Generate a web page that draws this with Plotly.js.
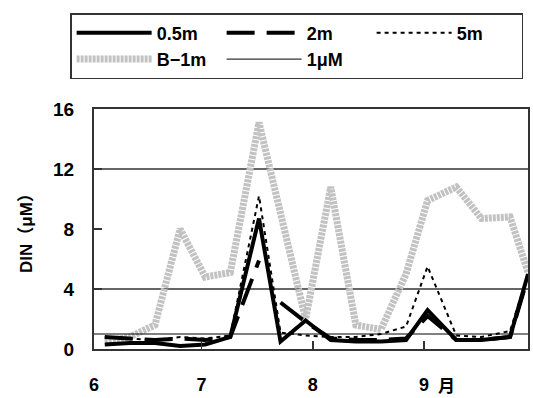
<!DOCTYPE html>
<html>
<head>
<meta charset="utf-8">
<script src="https://cdn.plot.ly/plotly-3.0.1.min.js"></script>
<style>html,body{margin:0;padding:0;background:#fff;}#chart{width:533px;height:398px;}</style>
</head>
<body>
<div id="chart"></div>
<script>
// sampling dates
const dates = ['2008-06-04','2008-06-11','2008-06-18','2008-06-25','2008-07-02','2008-07-09','2008-07-17','2008-07-23','2008-07-30','2008-08-06','2008-08-13','2008-08-20','2008-08-27','2008-09-02','2008-09-10','2008-09-17','2008-09-25','2008-09-30'];
// DIN (μM) by depth / station
const din05m = [0.3, 0.4, 0.4, 0.2, 0.3, 0.8, 8.7, 0.5, 1.9, 0.6, 0.5, 0.5, 0.6, 2.6, 0.6, 0.6, 0.8, 5.0];
const din2m  = [0.8, 0.7, 0.6, 0.7, 0.6, 0.8, 5.9, 3.1, 1.8, 0.7, 0.6, 0.6, 0.7, 2.2, 0.6, 0.6, 0.8, 4.8];
const din5m  = [0.8, 0.7, 0.6, 0.8, 0.7, 0.9, 10.2, 1.1, 0.9, 0.8, 0.8, 1.0, 1.5, 5.5, 0.9, 0.8, 1.2, 5.0];
const dinB1m = [0.5, 0.8, 1.6, 8.0, 4.8, 5.1, 15.1, 9.2, 2.0, 10.8, 1.6, 1.3, 5.0, 9.9, 10.8, 8.7, 8.8, 5.1];
// 2m series is missing between these two samples
const gap2mAfter = '2008-07-17', gap2mDate = '2008-07-20';
// reference level
const refLevel = 1;
const xRange = ['2008-06-01','2008-09-30'];
const monthTicks = ['2008-06-01','2008-07-01','2008-08-01','2008-09-01'];
const monthLabels = ['6','7','8','9'];
const yTicks = [0, 4, 8, 12, 16];
const gridLevels = [4, 12];

// build 2m with a gap
const x2 = [], y2 = [];
dates.forEach((d, i) => {
  x2.push(d); y2.push(din2m[i]);
  if (d === gap2mAfter) { x2.push(gap2mDate); y2.push(null); }
});

const FONT = 'Liberation Sans, Arial, Noto Sans CJK JP, sans-serif';

const traces = [
  {x: dates, y: dinB1m, name: 'B−1m', mode: 'lines', legendrank: 4,
   line: {color: '#c2c2c2', width: 7, dash: '3px,1px'}},
  {x: xRange, y: [refLevel, refLevel], name: '1μM', mode: 'lines', legendrank: 5,
   line: {color: '#000', width: 1}},
  {x: dates, y: din5m, name: '5m', mode: 'lines', legendrank: 3,
   line: {color: '#000', width: 2, dash: '4px,4px'}},
  {x: x2, y: y2, name: '2m', mode: 'lines', legendrank: 2, connectgaps: false,
   line: {color: '#000', width: 4, dash: '28px,12px'}},
  {x: dates, y: din05m, name: '0.5m', mode: 'lines', legendrank: 1,
   line: {color: '#000', width: 4}}
];

const shapes = gridLevels.map(v => ({
  type: 'line', xref: 'paper', x0: 0, x1: 1, yref: 'y', y0: v, y1: v,
  line: {color: '#333', width: 1.5}, layer: 'below'
}));

const layout = {
  width: 533, height: 398,
  margin: {l: 94, r: 5, t: 109, b: 49},
  paper_bgcolor: '#fff', plot_bgcolor: '#fff',
  font: {family: FONT, size: 18, color: '#000', weight: 700},
  showlegend: true,
  legend: {
    orientation: 'h', x: -0.055, xanchor: 'left', y: 1.40, yanchor: 'top',
    bordercolor: '#333', borderwidth: 1.5, bgcolor: '#fff',
    itemwidth: 75, entrywidth: 60, traceorder: 'normal',
    font: {family: FONT, size: 18, color: '#000', weight: 700}
  },
  xaxis: {
    type: 'date', range: xRange, tickmode: 'array', tickvals: monthTicks, ticktext: monthLabels,
    ticks: 'inside', ticklen: 8, tickcolor: '#333', tickwidth: 1.5,
    showline: true, linecolor: '#333', linewidth: 2, mirror: true,
    showgrid: false, zeroline: false, ticklabelstandoff: 18,
    tickfont: {family: FONT, size: 18, weight: 700, color: '#000'}
  },
  yaxis: {
    range: [0, 16], tickmode: 'array', tickvals: yTicks,
    ticks: 'inside', ticklen: 8, tickcolor: '#333', tickwidth: 1.5,
    showline: true, linecolor: '#333', linewidth: 2, mirror: true,
    showgrid: false, zeroline: false, ticklabelstandoff: 14,
    tickfont: {family: FONT, size: 19, weight: 700, color: '#000'},
    title: {text: 'DIN（μM）', standoff: 16, font: {family: FONT, size: 17, weight: 700, color: '#000'}}
  },
  shapes: shapes,
  annotations: [{
    text: '月', xref: 'paper', yref: 'paper', x: 0.813, y: -0.146,
    xanchor: 'center', yanchor: 'middle', showarrow: false,
    font: {family: 'Noto Sans CJK JP, sans-serif', size: 17, weight: 700, color: '#000'}
  }]
};

Plotly.newPlot('chart', traces, layout, {displayModeBar: false, staticPlot: true});
</script>
</body>
</html>
